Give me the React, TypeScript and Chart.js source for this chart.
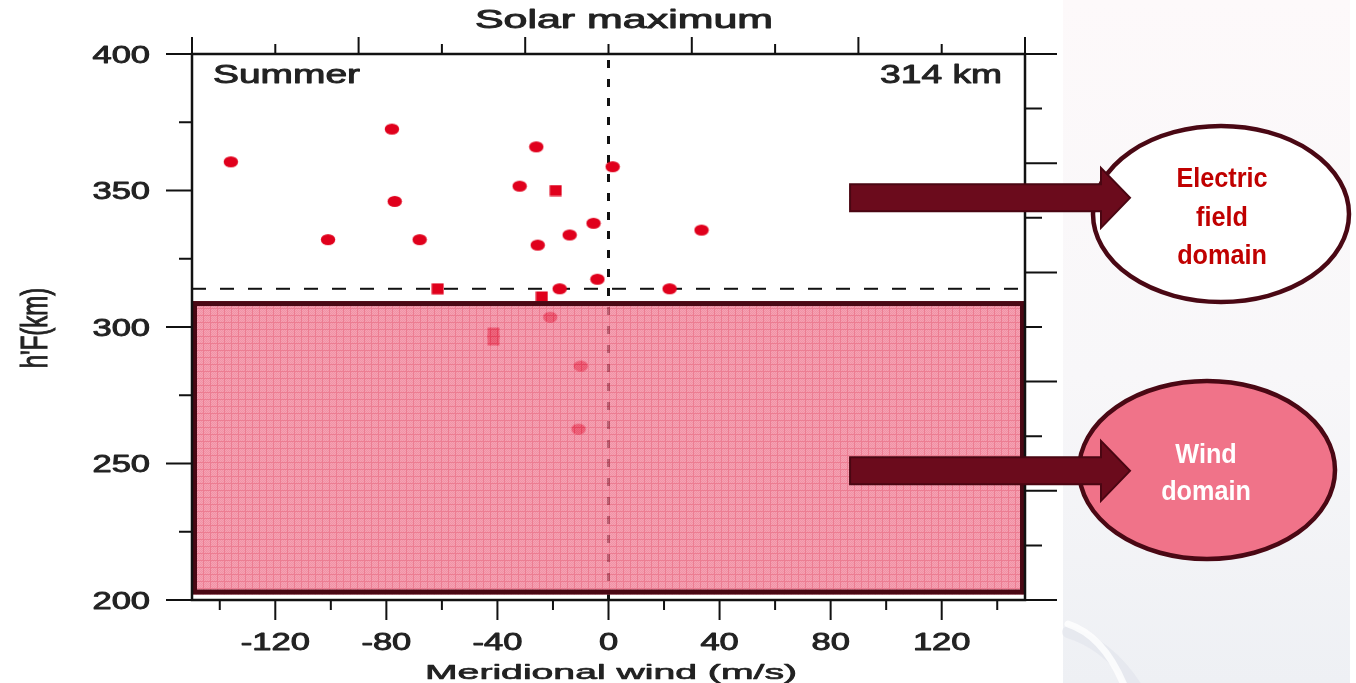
import React, { useEffect, useRef } from "react";
import { Chart, registerables } from "chart.js";

Chart.register(...registerables);

// ---- data ----
const WIND = [-136, -78, -26, 1.5, -32, -19, -77, -101, -68, -25.5, -14, -5.4, 33.5, -4, -61.5, -17.6, -24, 22, -21, -41.4, -41.4, -10, -10.8];
const HEIGHT = [360.5, 372.5, 366, 358.7, 351.6, 350, 346, 332, 332, 330, 333.7, 338, 335.5, 317.5, 314, 314, 311, 314, 303.6, 297.8, 295.2, 285.7, 262.6];
const MARKER = ["o", "o", "o", "o", "o", "s", "o", "o", "o", "o", "o", "o", "o", "o", "s", "o", "s", "o", "o", "s", "s", "o", "o"];

const X_RANGE = [-150, 150];
const Y_RANGE = [200, 400];
const X_MAJOR = [-120, -80, -40, 0, 40, 80, 120];
const X_MINOR = [-140, -100, -60, -20, 20, 60, 100, 140];
const X_TOP = [-150, -120, -90, -60, -30, 0, 30, 60, 90, 120, 150];
const Y_MAJOR = [200, 250, 300, 350, 400];
const Y_MINOR = [225, 275, 325, 375];
const Y_RIGHT = [200, 220, 240, 260, 280, 300, 320, 340, 360, 380, 400];

const ZERO_WIND = 0;
const PEAK_HEIGHT = 314;
const BOX_WIND = [-150, 150];
const BOX_HEIGHT = [202, 309.5];
const ARROW_HEIGHTS = [347.3, 247.3];
const ARROW_START_WIND = 87;

const TITLE = "Solar maximum";
const X_TITLE = "Meridional wind (m/s)";
const Y_TITLE = "h'F(km)";
const SEASON = "Summer";
const PEAK_LABEL = "314 km";
const EF_LINES = ["Electric", "field", "domain"];
const WIND_LINES = ["Wind", "domain"];

const FONT = '"Liberation Sans", Arial, Helvetica, sans-serif';
const TXT = "#222222";
const MAROON = "#4a0814";

function stretchText(ctx: CanvasRenderingContext2D, text: string, x: number, y: number, font: string, sx: number, align: "left" | "center" | "right", color: string, weight = 0) {
  ctx.save();
  ctx.font = font;
  ctx.textBaseline = "alphabetic";
  ctx.textAlign = "left";
  ctx.fillStyle = color;
  const w = ctx.measureText(text).width * sx;
  const left = align === "center" ? x - w / 2 : align === "right" ? x - w : x;
  ctx.translate(left, y);
  ctx.scale(sx, 1);
  ctx.fillText(text, 0, 0);
  if (weight > 0) {
    ctx.strokeStyle = color;
    ctx.lineWidth = weight;
    ctx.lineJoin = "round";
    ctx.strokeText(text, 0, 0);
  }
  ctx.restore();
}

function fitText(ctx: CanvasRenderingContext2D, text: string, x: number, y: number, font: string, width: number, align: "left" | "center" | "right", color: string, weight = 0) {
  ctx.save();
  ctx.font = font;
  const w0 = ctx.measureText(text).width;
  ctx.restore();
  stretchText(ctx, text, x, y, font, width / w0, align, color, weight);
}

function makePattern(): HTMLCanvasElement {
  const p = document.createElement("canvas");
  p.width = 7;
  p.height = 7;
  const c = p.getContext("2d")!;
  c.fillStyle = "rgb(242,134,156)";
  c.fillRect(0, 0, 7, 7);
  c.fillStyle = "rgb(237,114,140)";
  for (let i = 0; i < 7; i++) for (let j = 0; j < 7; j++) if ((i + j) % 2 === 0) c.fillRect(i, j, 1, 1);
  c.fillStyle = "rgb(231,86,114)";
  c.fillRect(0, 0, 7, 1);
  c.fillRect(0, 0, 1, 7);
  return p;
}

function makeMarker(kind: string): HTMLCanvasElement {
  const cv = document.createElement("canvas");
  const c = cv.getContext("2d")!;
  if (kind === "s") {
    cv.width = 13;
    cv.height = 12;
    c.fillStyle = "#e0001c";
    c.fillRect(0.5, 0.5, 12, 11);
  } else {
    cv.width = 16;
    cv.height = 13;
    c.fillStyle = "#e0001c";
    c.beginPath();
    c.ellipse(8, 6.5, 7.2, 5.6, 0, 0, Math.PI * 2);
    c.fill();
  }
  return cv;
}

function drawArrow(ctx: CanvasRenderingContext2D, x0: number, tip: number, cy: number) {
  const hh = 13.5, headH = 30, headL = 29;
  ctx.save();
  ctx.beginPath();
  ctx.moveTo(x0, cy - hh);
  ctx.lineTo(tip - headL, cy - hh);
  ctx.lineTo(tip - headL, cy - headH);
  ctx.lineTo(tip, cy);
  ctx.lineTo(tip - headL, cy + headH);
  ctx.lineTo(tip - headL, cy + hh);
  ctx.lineTo(x0, cy + hh);
  ctx.closePath();
  ctx.fillStyle = "#6b0b1c";
  ctx.fill();
  ctx.lineWidth = 2;
  ctx.strokeStyle = "#4a0612";
  ctx.stroke();
  ctx.restore();
}

export default function App() {
  const ref = useRef<HTMLCanvasElement | null>(null);

  useEffect(() => {
    if (!ref.current) return;
    const pattern = makePattern();
    const circ = makeMarker("o");
    const sq = makeMarker("s");

    const deco = {
      id: "deco",
      beforeDraw(chart: any) {
        const ctx: CanvasRenderingContext2D = chart.ctx;
        ctx.save();
        ctx.fillStyle = "#ffffff";
        ctx.fillRect(0, 0, chart.width, chart.height);
        const g = ctx.createLinearGradient(0, 0, 0, chart.height);
        g.addColorStop(0, "#fdf9fa");
        g.addColorStop(0.55, "#f8f7f9");
        g.addColorStop(1, "#eef0f4");
        ctx.fillStyle = g;
        ctx.fillRect(1063, 0, 287, chart.height);
        // faint swoosh at bottom-left of the side panel
        ctx.lineCap = "round";
        ctx.strokeStyle = "rgba(215,219,228,0.35)";
        ctx.lineWidth = 12;
        ctx.beginPath();
        ctx.moveTo(1068, 632);
        ctx.quadraticCurveTo(1110, 645, 1138, 690);
        ctx.stroke();
        ctx.strokeStyle = "rgba(255,255,255,0.8)";
        ctx.lineWidth = 7;
        ctx.beginPath();
        ctx.moveTo(1068, 624);
        ctx.quadraticCurveTo(1105, 636, 1126, 690);
        ctx.stroke();
        ctx.restore();
      },
      beforeDatasetsDraw(chart: any) {
        const ctx: CanvasRenderingContext2D = chart.ctx;
        const xs = chart.scales.x, ys = chart.scales.y;
        const a = chart.chartArea;
        ctx.save();
        ctx.strokeStyle = "#111";
        ctx.lineWidth = 3;
        ctx.setLineDash([8, 11]);
        const zx = xs.getPixelForValue(ZERO_WIND);
        ctx.beginPath();
        ctx.moveTo(zx, a.top + 6);
        ctx.lineTo(zx, a.bottom);
        ctx.stroke();
        ctx.lineWidth = 2;
        ctx.setLineDash([14, 14]);
        const py = ys.getPixelForValue(PEAK_HEIGHT);
        ctx.beginPath();
        ctx.moveTo(a.left, py);
        ctx.lineTo(a.right, py);
        ctx.stroke();
        ctx.restore();
      },
      afterDatasetsDraw(chart: any) {
        const ctx: CanvasRenderingContext2D = chart.ctx;
        const xs = chart.scales.x, ys = chart.scales.y;
        const a = chart.chartArea;

        // wind-domain box
        const l = xs.getPixelForValue(BOX_WIND[0]);
        const r = xs.getPixelForValue(BOX_WIND[1]);
        const t = ys.getPixelForValue(BOX_HEIGHT[1]);
        const b = ys.getPixelForValue(BOX_HEIGHT[0]);
        ctx.save();
        ctx.globalAlpha = 0.77;
        ctx.fillStyle = ctx.createPattern(pattern, "repeat") as CanvasPattern;
        ctx.fillRect(l, t, r - l, b - t);
        ctx.globalAlpha = 1;
        ctx.lineWidth = 5;
        ctx.strokeStyle = MAROON;
        ctx.strokeRect(l + 2.5, t + 2.5, r - l - 5, b - t - 5);
        ctx.restore();

        // frame
        ctx.save();
        ctx.strokeStyle = "#111";
        ctx.lineWidth = 2.5;
        ctx.strokeRect(a.left, a.top, a.right - a.left, a.bottom - a.top);
        ctx.lineWidth = 2;
        ctx.beginPath();
        for (const v of Y_MAJOR) {
          const y = ys.getPixelForValue(v);
          ctx.moveTo(a.left - 26, y);
          ctx.lineTo(a.left, y);
        }
        for (const v of Y_MINOR) {
          const y = ys.getPixelForValue(v);
          ctx.moveTo(a.left - 13, y);
          ctx.lineTo(a.left, y);
        }
        for (const v of Y_RIGHT) {
          const y = ys.getPixelForValue(v);
          const long = v % 40 === 0;
          ctx.moveTo(a.right, y);
          ctx.lineTo(a.right + (long ? 32 : 17), y);
        }
        for (const v of X_MAJOR) {
          const x = xs.getPixelForValue(v);
          ctx.moveTo(x, a.bottom);
          ctx.lineTo(x, a.bottom + 20);
        }
        for (const v of X_MINOR) {
          const x = xs.getPixelForValue(v);
          ctx.moveTo(x, a.bottom);
          ctx.lineTo(x, a.bottom + 10);
        }
        for (const v of X_TOP) {
          const x = xs.getPixelForValue(v);
          const long = Math.abs(v / 30) % 2 === 1;
          ctx.moveTo(x, a.top);
          ctx.lineTo(x, a.top - (long ? 17 : 10));
        }
        ctx.stroke();
        ctx.restore();

        // tick labels
        const tickFont = `23px ${FONT}`;
        for (const v of Y_MAJOR) {
          stretchText(ctx, String(v), a.left - 42, ys.getPixelForValue(v) + 8.5, tickFont, 1.5, "right", TXT, 0.9);
        }
        for (const v of X_MAJOR) {
          stretchText(ctx, String(v), xs.getPixelForValue(v), a.bottom + 50, tickFont, 1.5, "center", TXT, 0.9);
        }

        // titles
        fitText(ctx, TITLE, 624, 28, `25px ${FONT}`, 298, "center", TXT, 0.9);
        fitText(ctx, X_TITLE, 611, 679, `21px ${FONT}`, 372, "center", TXT, 0.7);
        fitText(ctx, SEASON, a.left + 21, a.top + 29, `25px ${FONT}`, 147, "left", TXT, 0.9);
        fitText(ctx, PEAK_LABEL, a.right - 23, a.top + 29, `25px ${FONT}`, 122, "right", TXT, 0.9);
        ctx.save();
        ctx.translate(37, 328);
        ctx.scale(1.55, 1);
        ctx.rotate(-Math.PI / 2);
        ctx.font = `24px ${FONT}`;
        ctx.fillStyle = TXT;
        ctx.strokeStyle = TXT;
        ctx.lineWidth = 0.7;
        ctx.textAlign = "center";
        ctx.textBaseline = "middle";
        ctx.fillText(Y_TITLE, 0, 0);
        ctx.strokeText(Y_TITLE, 0, 0);
        ctx.restore();

        // annotations: ellipses + arrows
        const e1x = a.right + 196, e1y = a.top + 160;
        const e2x = a.right + 182, e2y = a.top + 416;
        ctx.save();
        ctx.lineWidth = 4.5;
        ctx.strokeStyle = MAROON;
        ctx.fillStyle = "#ffffff";
        ctx.beginPath();
        ctx.ellipse(e1x, e1y, 128, 88, 0, 0, Math.PI * 2);
        ctx.fill();
        ctx.stroke();
        ctx.fillStyle = "#f07389";
        ctx.beginPath();
        ctx.ellipse(e2x, e2y, 128, 89, 0, 0, Math.PI * 2);
        ctx.fill();
        ctx.stroke();
        ctx.restore();

        const x0 = xs.getPixelForValue(ARROW_START_WIND);
        const tip = a.right + 105;
        for (const h of ARROW_HEIGHTS) drawArrow(ctx, x0, tip, ys.getPixelForValue(h));

        const annFont = `bold 28px ${FONT}`;
        EF_LINES.forEach((s, i) => stretchText(ctx, s, e1x + 1, e1y - 27 + i * 38.5, annFont, 0.9, "center", "#c00000"));
        WIND_LINES.forEach((s, i) => stretchText(ctx, s, e2x - 1, e2y - 7 + i * 37, annFont, 0.9, "center", "#ffffff"));
      },
    };

    const chart = new Chart(ref.current, {
      type: "scatter",
      data: {
        datasets: [
          {
            label: "h'F",
            data: WIND.map((w, i) => ({ x: w, y: HEIGHT[i] })),
            pointStyle: MARKER.map((m) => (m === "s" ? sq : circ)) as any,
            pointRadius: 6,
            backgroundColor: "#e0001c",
            borderWidth: 0,
          },
        ],
      },
      options: {
        animation: false,
        responsive: false,
        devicePixelRatio: 1,
        layout: { padding: { left: 192, right: 331, top: 54, bottom: 83 } },
        scales: {
          x: { type: "linear", min: X_RANGE[0], max: X_RANGE[1], display: false },
          y: { type: "linear", min: Y_RANGE[0], max: Y_RANGE[1], display: false },
        },
        plugins: { legend: { display: false }, tooltip: { enabled: false }, title: { display: false } },
      },
      plugins: [deco as any],
    });
    return () => chart.destroy();
  }, []);

  return (
    <div style={{ position: "fixed", left: 0, top: 0, width: 1356, height: 683, background: "#fff" }}>
      <canvas ref={ref} width={1356} height={683} style={{ display: "block" }} />
    </div>
  );
}
